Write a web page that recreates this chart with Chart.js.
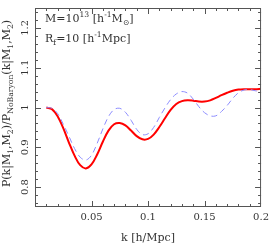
<!DOCTYPE html>
<html>
<head>
<meta charset="utf-8">
<script src="https://cdn.jsdelivr.net/npm/chart.js@4.4.0/dist/chart.umd.min.js"></script>
<style>
  html, body { margin: 0; padding: 0; background: #fff; }
  #box { width: 273px; height: 247px; }
</style>
</head>
<body>
<div id="box"><canvas id="ratioChart"></canvas></div>
<script>
// k [h/Mpc]
var kValues = [0.010, 0.015, 0.020, 0.025, 0.030, 0.035, 0.040, 0.045, 0.050, 0.055,
               0.060, 0.065, 0.070, 0.075, 0.080, 0.085, 0.090, 0.095, 0.100, 0.105,
               0.110, 0.115, 0.120, 0.125, 0.130, 0.135, 0.140, 0.145, 0.150, 0.155,
               0.160, 0.165, 0.170, 0.175, 0.180, 0.185, 0.190, 0.195, 0.200];
// red solid
var ratioSolid = [1.000, 0.996, 0.978, 0.948, 0.912, 0.879, 0.855, 0.847, 0.857, 0.882,
                  0.914, 0.942, 0.958, 0.961, 0.955, 0.942, 0.928, 0.920, 0.921, 0.932,
                  0.951, 0.973, 0.994, 1.009, 1.016, 1.018, 1.017, 1.015, 1.015, 1.018,
                  1.024, 1.031, 1.037, 1.042, 1.045, 1.046, 1.046, 1.046, 1.047];
// blue dashed
var ratioDashed = [1.000, 0.998, 0.985, 0.958, 0.928, 0.897, 0.875, 0.868, 0.880, 0.910,
                   0.946, 0.977, 0.995, 0.998, 0.988, 0.968, 0.945, 0.932, 0.934, 0.950,
                   0.975, 0.999, 1.020, 1.034, 1.040, 1.036, 1.021, 1.002, 0.987, 0.979,
                   0.979, 0.990, 1.005, 1.023, 1.037, 1.044, 1.045, 1.042, 1.039];
var xTicks = [0.05, 0.1, 0.15, 0.2];
var yTicks = [0.8, 0.9, 1, 1.1, 1.2];

var axisColor = '#555';
var textColor = '#333';
var fontName = '"DejaVu Serif"';

// draw text pieces with sub/superscripts, s: 0 normal, 1 sub, -1 sup
function richText(ctx, parts, x, y, size) {
  var cx = x;
  parts.forEach(function (p) {
    var sz = p.s ? size * 0.7 : size;
    var dy = p.s === 1 ? size * 0.3 : (p.s === -1 ? -size * 0.42 : 0);
    ctx.font = sz + 'px ' + fontName;
    ctx.fillText(p.t, cx, y + dy);
    cx += ctx.measureText(p.t).width;
  });
  return cx - x;
}
function richWidth(ctx, parts, size) {
  var w = 0;
  parts.forEach(function (p) {
    ctx.font = (p.s ? size * 0.7 : size) + 'px ' + fontName;
    w += ctx.measureText(p.t).width;
  });
  return w;
}

var frameTicks = {
  id: 'frameTicks',
  afterDatasetsDraw: function (chart) {
    var ctx = chart.ctx, a = chart.chartArea;
    var xs = chart.scales.x, ys = chart.scales.y;
    ctx.save();
    ctx.strokeStyle = axisColor;
    ctx.lineWidth = 1;
    ctx.strokeRect(a.left + 0.5, a.top + 0.5, a.right - a.left - 1, a.bottom - a.top - 1);
    ctx.beginPath();
    for (var i = 1; i < 20; i++) {
      var v = i / 100;
      var major = xTicks.some(function (t) { return Math.abs(t - v) < 1e-9; });
      var len = major ? 6 : 3;
      var px = Math.round(xs.getPixelForValue(v)) + 0.5;
      ctx.moveTo(px, a.bottom); ctx.lineTo(px, a.bottom - len);
      ctx.moveTo(px, a.top); ctx.lineTo(px, a.top + len);
    }
    for (var j = 38; j <= 62; j++) {
      var w = j / 50;
      var majorY = yTicks.some(function (t) { return Math.abs(t - w) < 1e-9; });
      var lenY = majorY ? 6 : 3;
      var py = Math.round(ys.getPixelForValue(w)) + 0.5;
      ctx.moveTo(a.left, py); ctx.lineTo(a.left + lenY, py);
      ctx.moveTo(a.right, py); ctx.lineTo(a.right - lenY, py);
    }
    ctx.stroke();

    ctx.fillStyle = textColor;
    ctx.textBaseline = 'alphabetic';
    ctx.textAlign = 'left';
    richText(ctx, [{t: 'M=10', s: 0}, {t: '13', s: -1}, {t: ' [h', s: 0}, {t: '-1', s: -1},
                   {t: 'M', s: 0}, {t: '\u2299', s: 1}, {t: ']', s: 0}], a.left + 10, 22, 11);
    richText(ctx, [{t: 'R', s: 0}, {t: 'f', s: 1}, {t: '=10 [h', s: 0}, {t: '-1', s: -1},
                   {t: 'Mpc]', s: 0}], a.left + 10, 42, 11);

    // x title
    ctx.font = '11px ' + fontName;
    ctx.textAlign = 'center';
    ctx.fillText('k [h/Mpc]', (a.left + a.right) / 2, 241);

    // y title
    var yParts = [{t: 'P(k|M', s: 0}, {t: '1', s: 1}, {t: ',M', s: 0}, {t: '2', s: 1}, {t: ')/P', s: 0},
                  {t: 'NoBaryon', s: 1}, {t: '(k|M', s: 0}, {t: '1', s: 1}, {t: ',M', s: 0}, {t: '2', s: 1}, {t: ')', s: 0}];
    ctx.textAlign = 'left';
    var tw = richWidth(ctx, yParts, 11);
    ctx.translate(10, (a.top + a.bottom) / 2 - 4);
    ctx.rotate(-Math.PI / 2);
    richText(ctx, yParts, -tw / 2, 0, 11);
    ctx.restore();
  }
};

var ctxR = document.getElementById('ratioChart').getContext('2d');
var ratioChart = new Chart(ctxR, {
  type: 'line',
  data: {
    labels: kValues,
    datasets: [{
      data: ratioDashed,
      borderColor: '#8c8cff',
      borderWidth: 1,
      borderDash: [6, 4],
      pointRadius: 0,
      tension: 0.35,
      fill: false
    }, {
      data: ratioSolid,
      borderColor: '#ff0000',
      borderWidth: 2,
      pointRadius: 0,
      tension: 0.35,
      fill: false
    }]
  },
  options: {
    responsive: true,
    maintainAspectRatio: false,
    animation: false,
    events: [],
    layout: { padding: { top: 1, right: 9, left: 0, bottom: 0 } },
    plugins: { legend: { display: false }, tooltip: { enabled: false } },
    scales: {
      x: {
        type: 'linear',
        min: 0, max: 0.2,
        border: { display: false },
        grid: { display: false, drawTicks: false },
        afterBuildTicks: function (s) { s.ticks = xTicks.map(function (v) { return {value: v}; }); },
        afterFit: function (s) { s.height = 40; },
        ticks: {
          padding: 4,
          maxRotation: 0,
          color: textColor,
          font: { family: 'DejaVu Serif', size: 10 },
          callback: function (v) { return String(v); }
        }
      },
      y: {
        min: 0.75, max: 1.25,
        border: { display: false },
        grid: { display: false, drawTicks: false },
        afterBuildTicks: function (s) { s.ticks = yTicks.map(function (v) { return {value: v}; }); },
        afterFit: function (s) { s.width = 35; },
        ticks: {
          padding: 2,
          minRotation: 90,
          maxRotation: 90,
          crossAlign: 'center',
          color: textColor,
          font: { family: 'DejaVu Serif', size: 10 },
          callback: function (v) { return String(v); }
        }
      }
    }
  },
  plugins: [frameTicks]
});
</script>
</body>
</html>
